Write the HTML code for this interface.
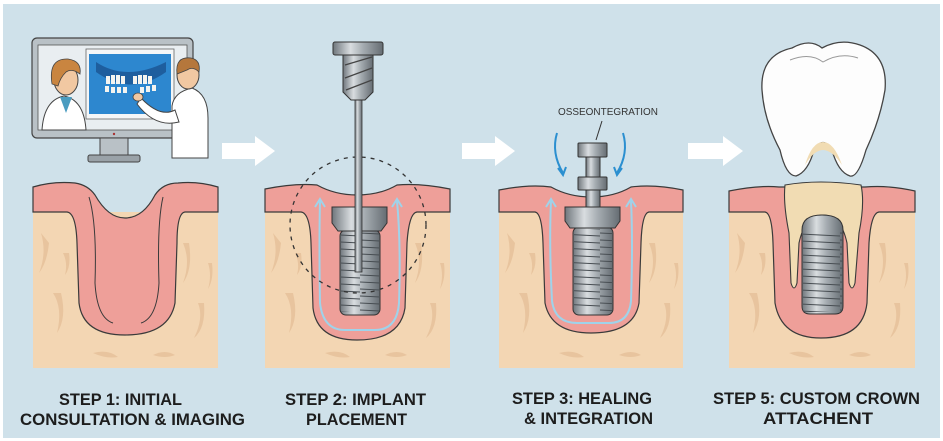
<!DOCTYPE html>
<html><head><meta charset="utf-8"><style>
html,body{margin:0;padding:0;background:#fff}
svg{display:block}
text{font-family:"Liberation Sans",Arial,sans-serif;font-weight:bold;fill:#1d1d1d}
</style></head><body>
<svg width="943" height="441" viewBox="0 0 943 441" xmlns="http://www.w3.org/2000/svg">
<defs>
<linearGradient id="metal" x1="0" x2="1">
<stop offset="0" stop-color="#6f767c"/><stop offset=".35" stop-color="#d9dde0"/><stop offset=".6" stop-color="#a5acb1"/><stop offset="1" stop-color="#656c72"/>
</linearGradient>
<pattern id="thr" width="60" height="7" patternUnits="userSpaceOnUse">
<line x1="0" y1="2" x2="60" y2="5" stroke="#474d52" stroke-width="1.1"/>
</pattern>
<g id="specks" fill="#e8c49e">
<path d="M8,50 q6,20 -2,40 q8,-10 10,-30z"/><path d="M20,110 q10,15 4,40 q10,-15 4,-40z"/>
<path d="M150,60 q8,18 0,40 q10,-14 6,-40z"/><path d="M165,120 q6,15 -4,35 q12,-10 10,-35z"/>
<path d="M30,70 q5,10 2,22 q6,-8 4,-22z"/><path d="M60,170 q15,-4 25,4 q-12,2 -25,-4z"/>
<path d="M120,172 q12,-6 22,0 q-10,4 -22,0z"/><path d="M175,80 q4,12 0,26 q6,-10 4,-26z"/>
</g>
</defs>
<rect width="943" height="441" fill="#fff"/>
<rect x="3" y="4" width="937" height="434" fill="#cfe1ea"/>

<!-- Monitor -->
<rect x="32" y="38" width="161" height="100" rx="5" fill="#b9c1c6" stroke="#444" stroke-width="1.2"/>
<rect x="38" y="45" width="149" height="85" fill="#e9eef1" stroke="#555" stroke-width="0.8"/>
<rect x="86" y="49" width="88" height="70" fill="#f4f6f7" stroke="#666" stroke-width="0.8"/>
<rect x="89" y="54" width="82" height="60" fill="#2d87cf"/>
<path d="M96,62 q30,20 70,0 l0,10 q-35,25 -70,0z" fill="#1e5e9e"/>
<g fill="#f4f4f0"><rect x="106" y="76" width="4" height="8"/><rect x="111" y="75" width="4" height="9"/><rect x="116" y="75" width="4" height="9"/><rect x="121" y="76" width="4" height="8"/><rect x="133" y="76" width="4" height="8"/><rect x="138" y="75" width="4" height="9"/><rect x="143" y="75" width="4" height="9"/><rect x="148" y="76" width="4" height="8"/>
<rect x="105" y="86" width="4" height="6"/><rect x="111" y="87" width="4" height="6"/><rect x="117" y="87" width="4" height="6"/><rect x="123" y="87" width="4" height="6"/><rect x="140" y="87" width="4" height="6"/><rect x="146" y="86" width="4" height="6"/><rect x="152" y="85" width="4" height="6"/></g>
<rect x="100" y="138" width="28" height="17" fill="#b9c1c6" stroke="#444" stroke-width="1"/>
<rect x="88" y="155" width="52" height="7" rx="2" fill="#9aa2a8" stroke="#444" stroke-width="1"/>
<circle cx="114" cy="134" r="1.2" fill="#a33"/>
<!-- woman -->
<path d="M42,130 q2,-30 22,-34 q20,4 22,34z" fill="#fff" stroke="#444" stroke-width="1"/>
<path d="M60,97 l6,16 l6,-16z" fill="#4a9cc0"/>
<ellipse cx="66" cy="80" rx="12" ry="15" fill="#f1c8a2" stroke="#444" stroke-width="1"/>
<path d="M52,84 q-4,-26 16,-25 q14,2 12,15 q-8,-6 -14,-2 q-6,6 -8,14z" fill="#c98540" stroke="#444" stroke-width="0.8"/>
<!-- doctor -->
<path d="M172,158 l0,-52 q2,-14 20,-18 q16,6 16,30 l0,40z" fill="#fff" stroke="#444" stroke-width="1"/>
<path d="M175,110 q-15,8 -34,-12 l-4,6 q18,24 42,18z" fill="#fff" stroke="#444" stroke-width="1"/>
<ellipse cx="138" cy="97" rx="5" ry="4" fill="#f1c8a2" stroke="#444" stroke-width="0.8"/>
<ellipse cx="188" cy="75" rx="11" ry="14" fill="#f1c8a2" stroke="#444" stroke-width="1"/>
<path d="M177,74 q-2,-18 14,-16 q10,2 8,14 q-6,-6 -12,-2z" fill="#b5773c" stroke="#444" stroke-width="0.8"/>

<!-- Arrows -->
<g fill="#fff">
<path d="M222,143 h33 v-7 l20,15 l-20,15 v-7 h-33z"/>
<path d="M462,143 h33 v-7 l20,15 l-20,15 v-7 h-33z"/>
<path d="M688,143 h35 v-7 l20,15 l-20,15 v-7 h-35z"/>
</g>

<!-- Panel 1 -->
<g transform="translate(33,183)">
<rect x="0" y="29" width="185" height="156" fill="#f3d6b3"/>
<use href="#specks"/>
<path d="M0,4 Q20,-2 42,0 Q55,2 62,12 Q75,35 92,35 Q110,35 122,12 Q130,0 145,0 Q165,-2 185,4 L185,29 L152,29 Q144,30 144,60 L142,120 Q136,152 92,152 Q50,152 46,120 L44,60 Q43,30 34,29 L0,29 Z" fill="#ee9f99" stroke="#3a3a3a" stroke-width="1.2"/>
<path d="M56,14 Q64,40 62,100 Q64,135 80,140" fill="none" stroke="#3a3a3a" stroke-width="1"/>
<path d="M130,14 Q124,40 126,100 Q124,135 108,140" fill="none" stroke="#3a3a3a" stroke-width="1"/>
</g>

<!-- Panel 2 -->
<g transform="translate(265,183)">
<rect x="0" y="29" width="185" height="156" fill="#f3d6b3"/>
<use href="#specks"/>
<path d="M0,6 Q30,0 52,2 Q70,12 92,12 Q115,12 132,2 Q155,0 185,6 L185,29 L152,29 Q144,30 142,60 L140,125 Q135,157 92,157 Q52,157 48,125 L46,60 Q45,30 36,29 L0,29 Z" fill="#ee9f99" stroke="#3a3a3a" stroke-width="1.2"/>
<path d="M55,18 Q54,60 55,120 Q58,147 80,147 L110,147 Q132,147 134,120 Q136,60 132,18" fill="none" stroke="#9fd3ea" stroke-width="2"/>
<path d="M50,24 l5,-8 l5,8 M127,24 l5,-8 l5,8" fill="none" stroke="#9fd3ea" stroke-width="2"/>
</g>
<rect x="340" y="230" width="40" height="85" rx="6" fill="url(#metal)" stroke="#333"/>
<rect x="341" y="232" width="38" height="80" fill="url(#thr)"/>
<path d="M332,207 h55 v16 l-6,8 h-43 l-6,-8z" fill="url(#metal)" stroke="#333"/>
<circle cx="358" cy="225" r="68" fill="none" stroke="#333" stroke-width="1.3" stroke-dasharray="4,5"/>
<rect x="355" y="100" width="7" height="172" fill="url(#metal)" stroke="#333" stroke-width="0.8"/>
<path d="M343,55 h30 v37 l-8,8 h-14 l-8,-8z" fill="url(#metal)" stroke="#333"/>
<path d="M345,65 l27,-8 M345,78 l27,-10 M346,90 l26,-10" stroke="#444" stroke-width="1.3"/>
<rect x="333" y="42" width="50" height="13" rx="2" fill="url(#metal)" stroke="#333"/>

<!-- Panel 3 -->
<g transform="translate(499,183)">
<rect x="0" y="29" width="184" height="156" fill="#f3d6b3"/>
<use href="#specks"/>
<path d="M0,7 Q30,1 52,4 Q70,14 92,14 Q115,14 132,4 Q155,1 184,7 L184,29 L150,29 Q143,30 142,60 L140,120 Q135,150 92,150 Q52,150 46,120 L44,60 Q43,30 36,29 L0,29 Z" fill="#ee9f99" stroke="#3a3a3a" stroke-width="1.2"/>
<path d="M52,18 Q50,60 53,118 Q56,140 78,140 L110,140 Q130,140 132,118 Q134,60 132,18" fill="none" stroke="#9fd3ea" stroke-width="2"/>
<path d="M47,24 l5,-8 l5,8 M127,24 l5,-8 l5,8" fill="none" stroke="#9fd3ea" stroke-width="2"/>
</g>
<rect x="573" y="227" width="40" height="88" rx="6" fill="url(#metal)" stroke="#333"/>
<rect x="574" y="229" width="38" height="82" fill="url(#thr)"/>
<path d="M565,207 h55 v14 l-5,7 h-45 l-5,-7z" fill="url(#metal)" stroke="#333"/>
<rect x="586" y="150" width="14" height="57" fill="url(#metal)" stroke="#333"/>
<rect x="578" y="143" width="29" height="14" rx="1" fill="url(#metal)" stroke="#333"/>
<rect x="578" y="177" width="29" height="13" rx="1" fill="url(#metal)" stroke="#333"/>
<text x="608" y="115" font-size="10.5" text-anchor="middle" style="font-weight:normal;fill:#333" textLength="100" lengthAdjust="spacingAndGlyphs">OSSEONTEGRATION</text>
<line x1="602" y1="121" x2="596" y2="140" stroke="#333"/>
<path d="M557,133 q-6,20 6,40" fill="none" stroke="#2b8fd0" stroke-width="2"/>
<path d="M558,168 l5,7 l3,-8" fill="none" stroke="#2b8fd0" stroke-width="2"/>
<path d="M623,133 q6,20 -6,40" fill="none" stroke="#2b8fd0" stroke-width="2"/>
<path d="M622,168 l-5,7 l-3,-8" fill="none" stroke="#2b8fd0" stroke-width="2"/>

<!-- Panel 4 -->
<g transform="translate(729,183)">
<rect x="0" y="29" width="186" height="156" fill="#f3d6b3"/>
<use href="#specks"/>
<path d="M0,8 Q30,2 50,4 L136,4 Q160,2 186,8 L186,29 L150,29 Q142,30 140,60 L138,120 Q134,155 92,155 Q52,155 46,120 L44,60 Q43,30 36,29 L0,29 Z" fill="#ee9f99" stroke="#3a3a3a" stroke-width="1.2"/>
<path d="M56,2 Q90,-4 132,2 Q136,20 130,50 L126,100 Q123,110 120,100 L118,60 Q112,32 94,32 Q76,32 70,60 L68,100 Q65,110 62,100 L60,50 Q54,20 56,2Z" fill="#f1dcb3" stroke="#3a3a3a" stroke-width="1.1"/>
</g>
<path d="M802,230 q0,-15 20,-15 q21,0 21,15 v76 q0,8 -8,8 h-25 q-8,0 -8,-8z" fill="url(#metal)" stroke="#333"/>
<rect x="803" y="232" width="40" height="80" fill="url(#thr)"/>
<path d="M792,48 Q810,38 822,48 Q840,38 860,45 Q888,55 885,90 Q880,120 866,150 Q858,178 850,176 Q838,172 832,150 Q823,135 814,150 Q808,172 796,176 Q786,176 780,150 Q764,120 762,90 Q760,55 792,48Z" fill="#fdfdfd" stroke="#444" stroke-width="1.3"/>
<path d="M805,165 Q812,142 823,142 Q834,142 842,165 Q832,150 823,150 Q814,150 805,165Z" fill="#f1dcb3"/>
<path d="M790,60 Q810,52 823,62 Q840,52 858,58" fill="none" stroke="#999" stroke-width="1"/>

<!-- Labels -->
<text x="120.5" y="405" font-size="17" text-anchor="middle" textLength="123" lengthAdjust="spacingAndGlyphs">STEP 1: INITIAL</text>
<text x="132.5" y="425" font-size="17" text-anchor="middle" textLength="225" lengthAdjust="spacingAndGlyphs">CONSULTATION &amp; IMAGING</text>
<text x="355.5" y="405" font-size="17" text-anchor="middle" textLength="141" lengthAdjust="spacingAndGlyphs">STEP 2: IMPLANT</text>
<text x="356.5" y="425" font-size="17" text-anchor="middle" textLength="101" lengthAdjust="spacingAndGlyphs">PLACEMENT</text>
<text x="582" y="404" font-size="17" text-anchor="middle" textLength="140" lengthAdjust="spacingAndGlyphs">STEP 3: HEALING</text>
<text x="588.5" y="424" font-size="17" text-anchor="middle" textLength="129" lengthAdjust="spacingAndGlyphs">&amp; INTEGRATION</text>
<text x="816.5" y="404" font-size="17" text-anchor="middle" textLength="207" lengthAdjust="spacingAndGlyphs">STEP 5: CUSTOM CROWN</text>
<text x="818" y="424" font-size="17" text-anchor="middle" textLength="110" lengthAdjust="spacingAndGlyphs">ATTACHENT</text>
</svg>
</body></html>
